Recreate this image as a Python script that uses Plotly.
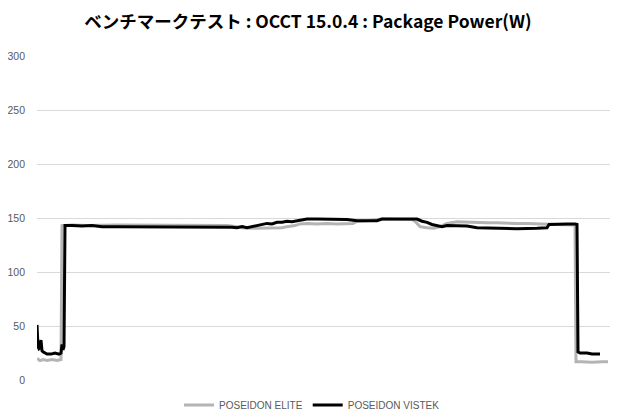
import plotly.graph_objects as go

# sample index (time) and package power (W)
vistek_t = [0, 1, 2, 3, 4, 5, 6, 8, 10, 14, 18, 22, 24, 25, 26, 27, 28, 35, 45, 55, 65, 80, 100, 120,
            140, 160, 180, 195, 200, 205, 210, 215, 220, 225, 230, 235, 240, 245, 250, 255, 260, 265,
            270, 280, 290, 300, 310, 316, 320, 330, 340, 345, 355, 365, 375, 380, 385, 390, 395, 400,
            405, 410, 420, 430, 440, 460, 480, 500, 510, 512, 520, 530, 538, 540, 541, 543, 550, 555, 563]
vistek_w = [51, 31, 29, 30, 37, 27, 26, 25, 24, 24, 25, 24, 25, 33, 28, 31, 143, 143, 142.5, 143, 142, 142,
            142, 142, 142, 142, 142, 141.5, 141, 142, 141, 142, 143, 143.5, 145, 144.5, 146, 146, 147,
            146.5, 147.5, 148, 149, 149, 149, 149, 148.5, 148, 147.5, 147.5, 147.5, 149, 149, 149, 149,
            149, 147, 146, 144, 143, 142, 143, 143, 142.5, 141, 140.5, 140, 140.5, 141, 144, 144.5,
            144.5, 144.5, 144, 26, 25, 25, 24, 24]

elite_t = [0, 3, 6, 10, 15, 20, 24, 25, 35, 50, 80, 100, 130, 160, 190, 200, 205, 215, 225, 235, 245,
           250, 258, 263, 270, 280, 290, 300, 310, 316, 320, 330, 345, 375, 378, 383, 390, 397, 403, 410,
           420, 430, 440, 450, 460, 470, 480, 490, 500, 510, 520, 538, 539, 545, 555, 565, 571]
elite_w = [20, 18, 19, 18, 19, 18, 19, 143, 143.5, 143, 143.5, 143.5, 143.5, 143.5, 143, 142, 141, 140.5,
           140.5, 140.5, 141, 142, 143, 144.5, 145, 144.5, 145, 144.5, 144.5, 145, 147, 147.5, 149, 148.5,
           147, 142, 141, 140.5, 142, 145, 146.5, 146, 146, 145.5, 145.5, 145, 145, 145, 144.5, 144, 144,
           143.5, 17, 17, 16.5, 17, 17]

y_ticks = [0, 50, 100, 150, 200, 250, 300]

fig = go.Figure()
fig.add_trace(go.Scatter(x=elite_t, y=elite_w, mode="lines", name="POSEIDON ELITE",
                         line=dict(color="#b4b4b4", width=3)))
fig.add_trace(go.Scatter(x=vistek_t, y=vistek_w, mode="lines", name="POSEIDON VISTEK",
                         line=dict(color="#000000", width=3)))

fig.update_layout(
    width=612, height=412,
    margin=dict(l=29, r=10, t=48, b=40, autoexpand=False),
    paper_bgcolor="white", plot_bgcolor="white",
    title=dict(text="ベンチマークテスト : OCCT 15.0.4 : Package Power(W)",
               x=0.49, xanchor="center", y=0.966, yanchor="middle",
               font=dict(family="Noto Sans CJK JP", size=17.5, color="#000000", weight="bold")),
    showlegend=True,
    legend=dict(orientation="h", x=0.48, xanchor="center", y=-0.077, yanchor="middle",
                font=dict(family="Liberation Sans", size=10, color="#595959"),
                itemwidth=30, tracegroupgap=0),
    font=dict(family="Liberation Sans"),
)
fig.update_xaxes(range=[0, 573], showgrid=False, showticklabels=False, zeroline=False,
                 showline=False, ticks="", automargin=False)
fig.update_yaxes(range=[0, 300], tickvals=y_ticks, showgrid=True, gridcolor="#d9d9d9", gridwidth=1,
                 zeroline=False, showline=False, ticks="", ticklabelstandoff=11, automargin=False,
                 tickfont=dict(family="Liberation Sans", size=10.5, color="#595959"))

fig.write_html("out.html")
